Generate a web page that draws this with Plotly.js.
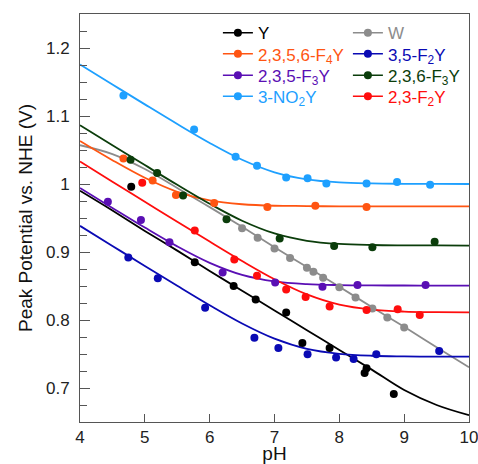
<!DOCTYPE html>
<html>
<head>
<meta charset="utf-8">
<script src="https://cdn.plot.ly/plotly-3.0.1.min.js"></script>
<style>html,body{margin:0;padding:0;background:#fff;}#chart{width:478px;height:464px;}</style>
</head>
<body>
<div id="chart"></div>
<script>
// Series names
const seriesNames = ['Y', 'W', '2,3,5,6-F<sub>4</sub>Y', '3,5-F<sub>2</sub>Y', '2,3,5-F<sub>3</sub>Y', '2,3,6-F<sub>3</sub>Y', '3-NO<sub>2</sub>Y', '2,3-F<sub>2</sub>Y'];
const seriesColors = ['#000000', '#8c8c8c', '#ff5512', '#0a0ab4', '#5a0fb4', '#0b3d0b', '#1ea0ff', '#ff0d0d'];

// Measured points (pH, peak potential V vs NHE)
const pH_Y = [4.79, 5.77, 6.37, 6.71, 7.18, 7.43, 7.85, 8.39, 8.42, 8.84];
const E_Y  = [0.996, 0.885, 0.850, 0.830, 0.811, 0.766, 0.759, 0.722, 0.729, 0.691];
const pH_W = [6.50, 6.74, 7.00, 7.24, 7.50, 7.60, 7.75, 8.00, 8.25, 8.51, 8.74, 9.00];
const E_W  = [0.935, 0.921, 0.905, 0.891, 0.877, 0.871, 0.862, 0.848, 0.833, 0.817, 0.8035, 0.789];
const pH_F4 = [4.67, 5.12, 5.48, 6.07, 6.89, 7.63, 8.42];
const E_F4  = [1.0375, 1.005, 0.984, 0.972, 0.966, 0.968, 0.966];
const pH_35F2 = [4.745, 5.20, 5.93, 6.69, 7.06, 7.51, 7.95, 8.22, 8.57, 9.54];
const E_35F2  = [0.892, 0.8615, 0.818, 0.774, 0.759, 0.7497, 0.745, 0.7427, 0.7497, 0.7545];
const pH_235F3 = [4.43, 4.94, 5.38, 6.20, 7.01, 7.74, 8.28, 9.33];
const E_235F3  = [0.974, 0.947, 0.9145, 0.870, 0.855, 0.849, 0.8516, 0.8516];
const pH_236F3 = [4.78, 5.19, 5.59, 6.26, 7.08, 7.92, 8.51, 9.47];
const E_236F3  = [1.0356, 1.016, 0.983, 0.948, 0.920, 0.909, 0.907, 0.915];
const pH_NO2 = [4.67, 5.76, 6.40, 6.73, 7.18, 7.51, 7.80, 8.42, 8.89, 9.40];
const E_NO2  = [1.130, 1.080, 1.040, 1.027, 1.0095, 1.0086, 1.0007, 1.0007, 1.0028, 0.9988];
const pH_23F2 = [4.96, 5.77, 6.38, 6.73, 7.18, 7.48, 7.85, 8.42, 8.90, 9.24];
const E_23F2  = [1.002, 0.9315, 0.889, 0.865, 0.845, 0.834, 0.8197, 0.8148, 0.8159, 0.8075];

// Fitted curves at these pH values
const fitPH = [4, 4.5, 5, 5.5, 6, 6.5, 7, 7.5, 8, 8.5, 9, 9.5, 10];
const fit_Y     = [0.990, 0.961, 0.931, 0.902, 0.872, 0.843, 0.814, 0.785, 0.756, 0.727, 0.697, 0.675, 0.660];
const fit_W     = [1.057, 1.044, 1.022, 0.994, 0.966, 0.937, 0.907, 0.878, 0.849, 0.819, 0.790, 0.760, 0.7305];
const fit_F4    = [1.0632, 1.035, 1.0091, 0.9885, 0.9759, 0.9702, 0.968, 0.9676, 0.967, 0.967, 0.967, 0.967, 0.967];
const fit_35F2  = [0.9384, 0.9089, 0.8795, 0.8503, 0.8217, 0.7949, 0.7726, 0.7576, 0.7503, 0.7474, 0.7465, 0.7461, 0.746];
const fit_235F3 = [0.9941, 0.9648, 0.9359, 0.9083, 0.8841, 0.8664, 0.8567, 0.8527, 0.8513, 0.8508, 0.8507, 0.8506, 0.8506];
const fit_236F3 = [1.0865, 1.0571, 1.0278, 0.9988, 0.9709, 0.946, 0.9273, 0.9165, 0.9119, 0.9103, 0.9098, 0.9096, 0.9095];
const fit_NO2   = [1.1758, 1.1464, 1.1171, 1.0882, 1.0604, 1.0356, 1.0172, 1.0068, 1.0023, 1.0008, 1.0003, 1.0001, 1.000];
const fit_23F2  = [1.033, 1.0034, 0.9739, 0.9445, 0.9153, 0.8867, 0.8599, 0.8376, 0.8226, 0.8153, 0.8124, 0.8115, 0.8111];

const xTickVals = [4, 5, 6, 7, 8, 9, 10];
const yTickVals = [0.7, 0.8, 0.9, 1.0, 1.1, 1.2];
const yTickText = ['0.7', '0.8', '0.9', '1', '1.1', '1.2'];

const pts = [[pH_Y,E_Y],[pH_W,E_W],[pH_F4,E_F4],[pH_35F2,E_35F2],[pH_235F3,E_235F3],[pH_236F3,E_236F3],[pH_NO2,E_NO2],[pH_23F2,E_23F2]];
const fits = [fit_Y, fit_W, fit_F4, fit_35F2, fit_235F3, fit_236F3, fit_NO2, fit_23F2];

const traces = [];
for (let i = 0; i < seriesNames.length; i++) {
  traces.push({x: fitPH, y: fits[i], mode: 'lines', line: {color: seriesColors[i], width: 1.8, shape: 'spline', smoothing: 1}, showlegend: false, hoverinfo: 'skip'});
}
for (let i = 0; i < seriesNames.length; i++) {
  traces.push({x: pts[i][0], y: pts[i][1], mode: 'markers', marker: {color: seriesColors[i], size: 8}, showlegend: false});
}
const fontFam = '"Liberation Sans", Arial, sans-serif';
const layout = {
  width: 478, height: 464,
  margin: {l: 80, r: 9, t: 14, b: 42},
  paper_bgcolor: '#ffffff', plot_bgcolor: '#ffffff',
  font: {family: fontFam, size: 17, color: '#222'},
  showlegend: true,
  xaxis: {range: [4, 10], tickvals: xTickVals, ticks: 'inside', ticklen: 8, tickcolor: '#555',
    showline: true, linecolor: '#555', linewidth: 1, mirror: true, showgrid: false, zeroline: false,
    tickfont: {size: 17, color: '#222'}, ticklabeloverflow: 'allow',
    title: {text: 'pH', font: {size: 19, color: '#111'}, standoff: 3}},
  yaxis: {range: [0.65, 1.25], tickvals: yTickVals, ticktext: yTickText, ticks: 'inside', ticklen: 10, tickcolor: '#555',
    minor: {dtick: 0.025, ticks: 'inside', ticklen: 7, tickcolor: '#555'},
    showline: true, linecolor: '#555', linewidth: 1, mirror: true, showgrid: false, zeroline: false,
    tickfont: {size: 17, color: '#222'}, ticklabelstandoff: 6,
    title: {text: 'Peak Potential vs. NHE (V)', font: {size: 19, color: '#111'}, standoff: 8}}
};

// one legend per entry: two columns, four rows
const legendCols = [0.3545, 0.6887];
const legendRows = [0.9527, 0.9012, 0.8488, 0.7973];
for (let i = 0; i < seriesNames.length; i++) {
  const key = i === 0 ? 'legend' : 'legend' + (i + 1);
  layout[key] = {font: {family: fontFam, size: 17}, bgcolor: 'rgba(0,0,0,0)', borderwidth: 0,
    xanchor: 'left', yanchor: 'middle', x: legendCols[i % 2], y: legendRows[Math.floor(i / 2)], itemwidth: 30};
  traces.push({x: [null], y: [null], mode: 'lines+markers',
    name: '<span style="color:' + seriesColors[i] + '">' + seriesNames[i] + '</span>',
    line: {color: seriesColors[i], width: 1.5}, marker: {color: seriesColors[i], size: 8},
    legend: key});
}

Plotly.newPlot('chart', traces, layout, {displayModeBar: false, staticPlot: true});
</script>
</body>
</html>
